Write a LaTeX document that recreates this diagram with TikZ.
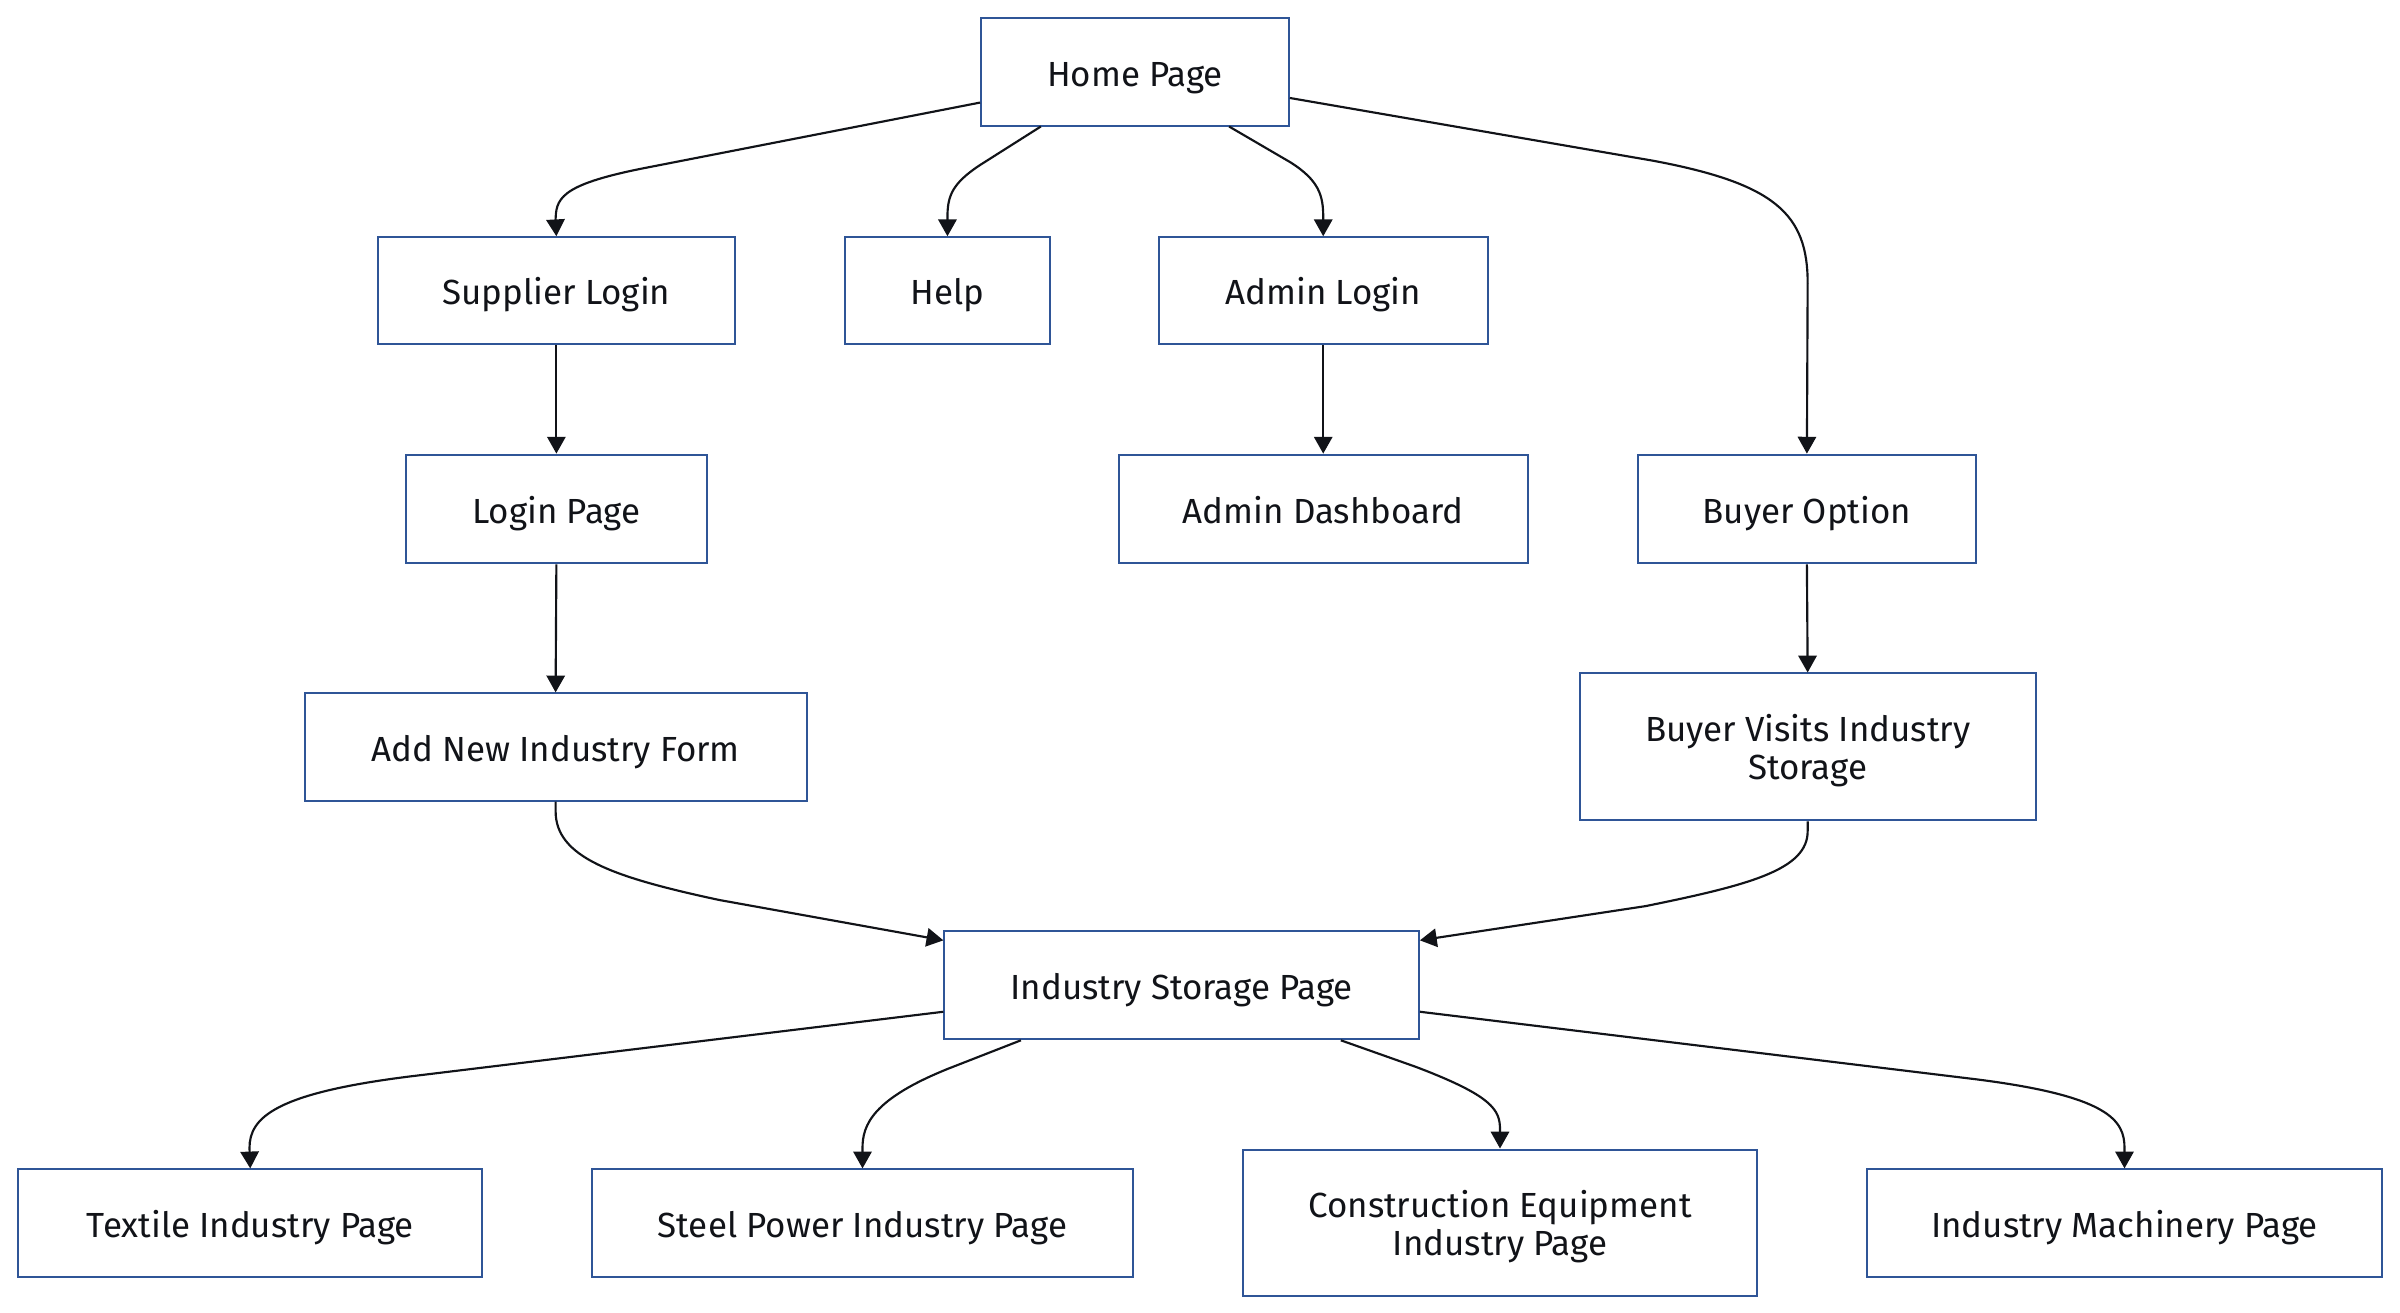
\documentclass[tikz,border=0pt]{standalone}
\usepackage{fontspec}
\setmainfont{Fira Sans}
\usetikzlibrary{arrows.meta,calc}
\definecolor{boxblue}{HTML}{2F5597}
\definecolor{ink}{HTML}{111318}
\begin{document}
\begin{tikzpicture}[x=0.5pt,y=-0.5pt,
  box/.style={draw=boxblue,line width=0.65pt,fill=white,inner sep=0pt,align=center,
    text=ink,text height=9.2pt,text depth=0pt,font=\fontsize{11.4}{12.3}\selectfont},
  twoline/.style={text height=,text depth=},
  arr/.style={draw=ink,line width=0.7pt,-{Triangle[length=5.5pt,width=6pt]}}]
\useasboundingbox[fill=white] (0,0) rectangle (1568,857.8);
\node[box,minimum width=100.5pt,minimum height=35pt] (home) at (741.5,47) {Home Page};
\node[box,minimum width=116.5pt,minimum height=35pt] (sup) at (363.5,190) {Supplier Login};
\node[box,minimum width=67pt,minimum height=35pt] (help) at (619,190) {Help};
\node[box,minimum width=107.5pt,minimum height=35pt] (adm) at (864.5,190) {Admin Login};
\node[box,minimum width=98.5pt,minimum height=35.5pt] (login) at (363.5,332.5) {Login Page};
\node[box,minimum width=133.5pt,minimum height=35.5pt] (dash) at (864.5,332.5) {Admin Dashboard};
\node[box,minimum width=110.5pt,minimum height=35.5pt] (buy) at (1180.5,332.5) {Buyer Option};
\node[box,minimum width=164pt,minimum height=35pt] (form) at (363,488) {Add New Industry Form};
\node[box,twoline,minimum width=149pt,minimum height=48pt] (visit) at (1181,488) {\rule{0pt}{11.3pt}Buyer Visits Industry\\Storage};
\node[box,minimum width=155pt,minimum height=35.5pt] (stor) at (772,643.5) {Industry Storage Page};
\node[box,minimum width=151.5pt,minimum height=35pt] (tex) at (163.5,799) {Textile Industry Page};
\node[box,minimum width=176.5pt,minimum height=35pt] (steel) at (563.5,799) {Steel Power Industry Page};
\node[box,twoline,minimum width=168pt,minimum height=48pt] (cons) at (980,799) {\rule{0pt}{11.3pt}Construction Equipment\\Industry Page};
\node[box,minimum width=168pt,minimum height=35pt] (mach) at (1388,799) {Industry Machinery Page};

\draw[arr] ($(home.west)+(0,20)$) -- (420,110) .. controls (365,121) and (363,130) .. (363,145) -- (sup.north);
\draw[arr] ($(home.south)+(-61.5,0)$) -- (640,108) .. controls (622,120) and (619,128) .. (619,142) -- (help.north);
\draw[arr] ($(home.south)+(61.5,0)$) -- (843,106) .. controls (862,118) and (864.5,128) .. (864.5,142) -- (adm.north);
\draw[arr] ($(home.east)+(0,17)$) -- (1080,105) .. controls (1160,120) and (1181,140) .. (1181,185) -- (buy.north);
\draw[arr] (sup.south) -- (login.north);
\draw[arr] (login.south) -- (form.north);
\draw[arr] (adm.south) -- (dash.north);
\draw[arr] (buy.south) -- (visit.north);
\draw[arr] (form.south) -- (363,530) .. controls (363,560) and (400,573) .. (470,588) -- ($(stor.north west)+(0,7)$);
\draw[arr] (visit.south) -- (1181,543) .. controls (1181,568) and (1144,578) .. (1075,592) -- ($(stor.north east)+(0,7)$);
\draw[arr] ($(stor.west)+(0,17.5)$) -- (270,703) .. controls (180,714) and (163,730) .. (163,750) -- (tex.north);
\draw[arr] ($(stor.south)+(-105,0)$) -- (620,698) .. controls (570,718) and (563.5,735) .. (563.5,750) -- (steel.north);
\draw[arr] ($(stor.south)+(104,0)$) -- (925,697) .. controls (975,716) and (980,725) .. (980,738) -- (cons.north);
\draw[arr] ($(stor.east)+(0,17.5)$) -- (1290,705) .. controls (1378,716) and (1388,732) .. (1388,750) -- (mach.north);
\end{tikzpicture}
\end{document}
